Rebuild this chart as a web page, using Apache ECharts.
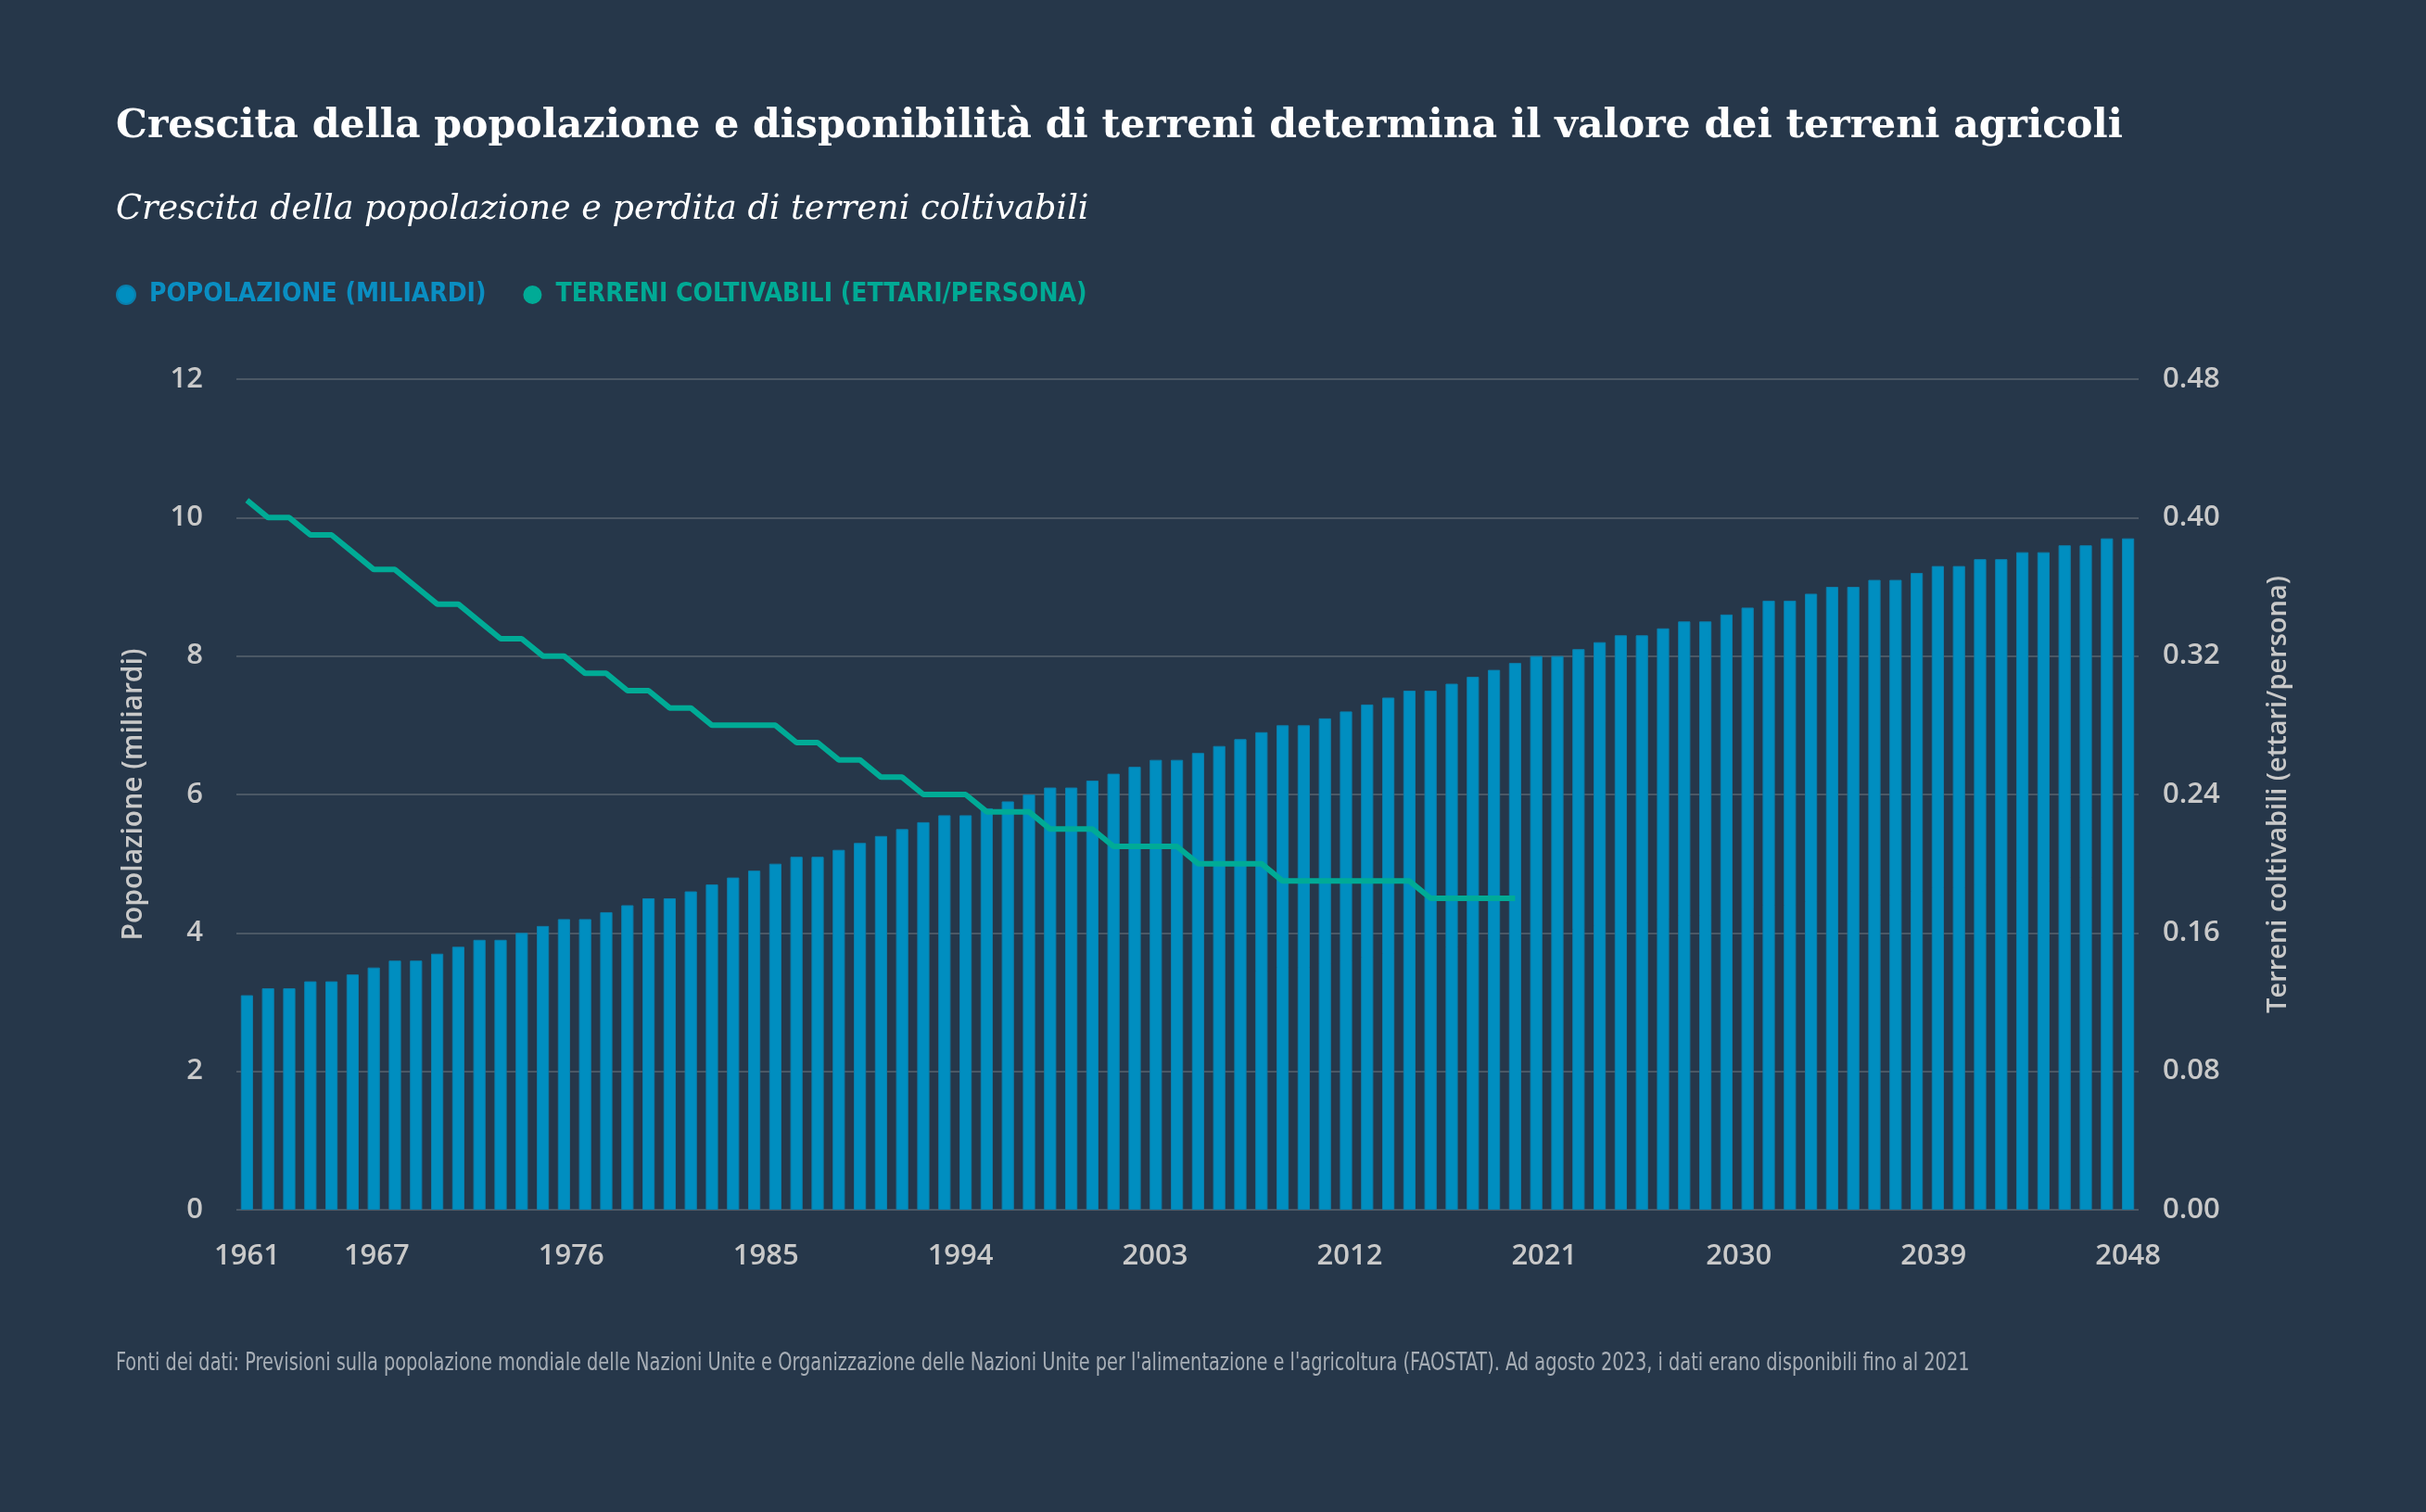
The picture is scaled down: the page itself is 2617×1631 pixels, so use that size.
<!DOCTYPE html>
<html>
<head>
<meta charset="utf-8">
<script src="https://cdn.jsdelivr.net/npm/echarts@6/dist/echarts.min.js"></script>
<style>
html,body{margin:0;padding:0;background:#26374a;}
#chart{width:2617px;height:1631px;}
</style>
</head>
<body>
<div id="chart"></div>
<script>
// Bar categories (one bar per entry)
const years = [
  '1961','1962','1963','1964','1965','1966','1967','1968','1969','1970',
  '1971','1972','1973','1974','1975','1976','1977','1978','1979','1980',
  '1981','1982','1983','1984','1985','1986','1987','1988','1989','1990',
  '1991','1992','1993','1994','1995','1996','1997','1998','1999','2000',
  '2001','2002','2003','2004','2005','2006','2007','2008','2009','2010',
  '2011','2012','2013','2014','2015','2016','2017','2018','2019','2020',
  '2021','2022','2023','2024','2025','2026','2027','2028','2029','2030',
  '2031','2032','2033','2034','2035','2036','2037','2038','2039','2040',
  '2041','2042','2043','2044','2045','2046','2047','2048','2049','2050'
];

// Population (billions)
const population = [
  3.1,3.2,3.2,3.3,3.3,3.4,3.5,3.6,3.6,3.7,
  3.8,3.9,3.9,4.0,4.1,4.2,4.2,4.3,4.4,4.5,
  4.5,4.6,4.7,4.8,4.9,5.0,5.1,5.1,5.2,5.3,
  5.4,5.5,5.6,5.7,5.7,5.8,5.9,6.0,6.1,6.1,
  6.2,6.3,6.4,6.5,6.5,6.6,6.7,6.8,6.9,7.0,
  7.0,7.1,7.2,7.3,7.4,7.5,7.5,7.6,7.7,7.8,
  7.9,8.0,8.0,8.1,8.2,8.3,8.3,8.4,8.5,8.5,
  8.6,8.7,8.8,8.8,8.9,9.0,9.0,9.1,9.1,9.2,
  9.3,9.3,9.4,9.4,9.5,9.5,9.6,9.6,9.7,9.7
];

// Arable land (hectares per person)
const arableLand = [
  0.41,0.40,0.40,0.39,0.39,0.38,0.37,0.37,0.36,0.35,
  0.35,0.34,0.33,0.33,0.32,0.32,0.31,0.31,0.30,0.30,
  0.29,0.29,0.28,0.28,0.28,0.28,0.27,0.27,0.26,0.26,
  0.25,0.25,0.24,0.24,0.24,0.23,0.23,0.23,0.22,0.22,
  0.22,0.21,0.21,0.21,0.21,0.20,0.20,0.20,0.20,0.19,
  0.19,0.19,0.19,0.19,0.19,0.19,0.18,0.18,0.18,0.18,
  0.18
];

// Year tick labels shown on the time axis
const tickYears = [1961,1967,1976,1985,1994,2003,2012,2021,2030,2039,2048];

const BG = '#26374a';
const BLUE = '#008ec0';
const TEAL = '#00ab96';
const GRID = '#58656f';
const LABEL = '#c9c9c9';

const nBars = years.length;
const firstTick = tickYears[0], lastTick = tickYears[tickYears.length - 1];
// the first tick sits on the first bar centre and the last tick on the last bar centre
const halfBandYears = (lastTick - firstTick) / (nBars - 1) / 2;

const chart = echarts.init(document.getElementById('chart'), null, {renderer: 'canvas'});

chart.setOption({
  backgroundColor: BG,
  animation: false,
  graphic: [
    {type: 'text', left: 125, top: 115, style: {
      text: 'Crescita della popolazione e disponibilità di terreni determina il valore dei terreni agricoli',
      fill: '#ffffff', font: 'bold 42.6px "DejaVu Serif", serif'}},
    {type: 'text', left: 125, top: 208, style: {
      text: 'Crescita della popolazione e perdita di terreni coltivabili',
      fill: '#ffffff', font: 'italic 36.6px "DejaVu Serif", serif'}},
    {type: 'text', x: 125, y: 1457, scaleX: 0.797, style: {
      text: "Fonti dei dati: Previsioni sulla popolazione mondiale delle Nazioni Unite e Organizzazione delle Nazioni Unite per l'alimentazione e l'agricoltura (FAOSTAT). Ad agosto 2023, i dati erano disponibili fino al 2021",
      fill: '#a7aeb6', font: '27px "DejaVu Sans Condensed", "DejaVu Sans", sans-serif'}}
  ],
  legend: {
    left: 125, top: 304, padding: 0,
    icon: 'circle', itemWidth: 20, itemHeight: 20, itemGap: 40,
    textStyle: {fontFamily: '"DejaVu Sans Condensed", "DejaVu Sans", sans-serif',
      fontWeight: 'bold', fontSize: 28, padding: [0, 0, 0, 10]},
    data: [
      {name: 'POPOLAZIONE (MILIARDI)', textStyle: {color: '#0a8ec2'}},
      {name: 'TERRENI COLTIVABILI (ETTARI/PERSONA)', textStyle: {color: '#00aa95'}}
    ]
  },
  grid: {left: 255, right: 310, top: 409, bottom: 326},
  xAxis: [
    {
      type: 'category', data: years, boundaryGap: true,
      axisLine: {show: false}, axisTick: {show: false}, axisLabel: {show: false},
      splitLine: {show: false}
    },
    {
      type: 'value', position: 'bottom',
      min: firstTick - halfBandYears, max: lastTick + halfBandYears,
      axisLine: {show: false}, axisTick: {show: false}, splitLine: {show: false},
      axisLabel: {
        customValues: tickYears, color: LABEL, fontSize: 31, fontWeight: 600,
        fontFamily: '"Open Sans", sans-serif', margin: 35,
        formatter: v => String(Math.round(v))
      }
    }
  ],
  yAxis: [
    {
      type: 'value', position: 'left', min: 0, max: 12, interval: 2,
      name: 'Popolazione (miliardi)', nameLocation: 'middle', nameGap: 96, nameRotate: 90,
      nameTextStyle: {color: LABEL, fontSize: 30, fontWeight: 600, fontFamily: '"Open Sans", sans-serif'},
      axisLine: {show: false}, axisTick: {show: false},
      axisLabel: {color: LABEL, fontSize: 31, fontWeight: 600, fontFamily: '"Open Sans", sans-serif', margin: 36},
      splitLine: {lineStyle: {color: GRID, width: 1.5}}
    },
    {
      type: 'value', position: 'right', min: 0, max: 0.48, interval: 0.08,
      name: 'Terreni coltivabili (ettari/persona)', nameLocation: 'middle', nameGap: 136, nameRotate: 90,
      nameTextStyle: {color: LABEL, fontSize: 29, fontWeight: 600, fontFamily: '"Open Sans", sans-serif'},
      axisLine: {show: false}, axisTick: {show: false},
      axisLabel: {color: LABEL, fontSize: 31, fontWeight: 600, fontFamily: '"Open Sans", sans-serif', margin: 26,
        formatter: v => v.toFixed(2)},
      splitLine: {show: false}
    }
  ],
  series: [
    {
      name: 'POPOLAZIONE (MILIARDI)', type: 'bar', xAxisIndex: 0, yAxisIndex: 0,
      data: population, barCategoryGap: '42%',
      itemStyle: {color: BLUE, borderColor: '#0b7eab', borderWidth: 1},
      z: 2
    },
    {
      name: 'TERRENI COLTIVABILI (ETTARI/PERSONA)', type: 'line', xAxisIndex: 0, yAxisIndex: 1,
      data: arableLand, showSymbol: false, symbol: 'none',
      lineStyle: {color: TEAL, width: 6}, itemStyle: {color: TEAL},
      z: 3
    }
  ]
});
</script>
</body>
</html>
